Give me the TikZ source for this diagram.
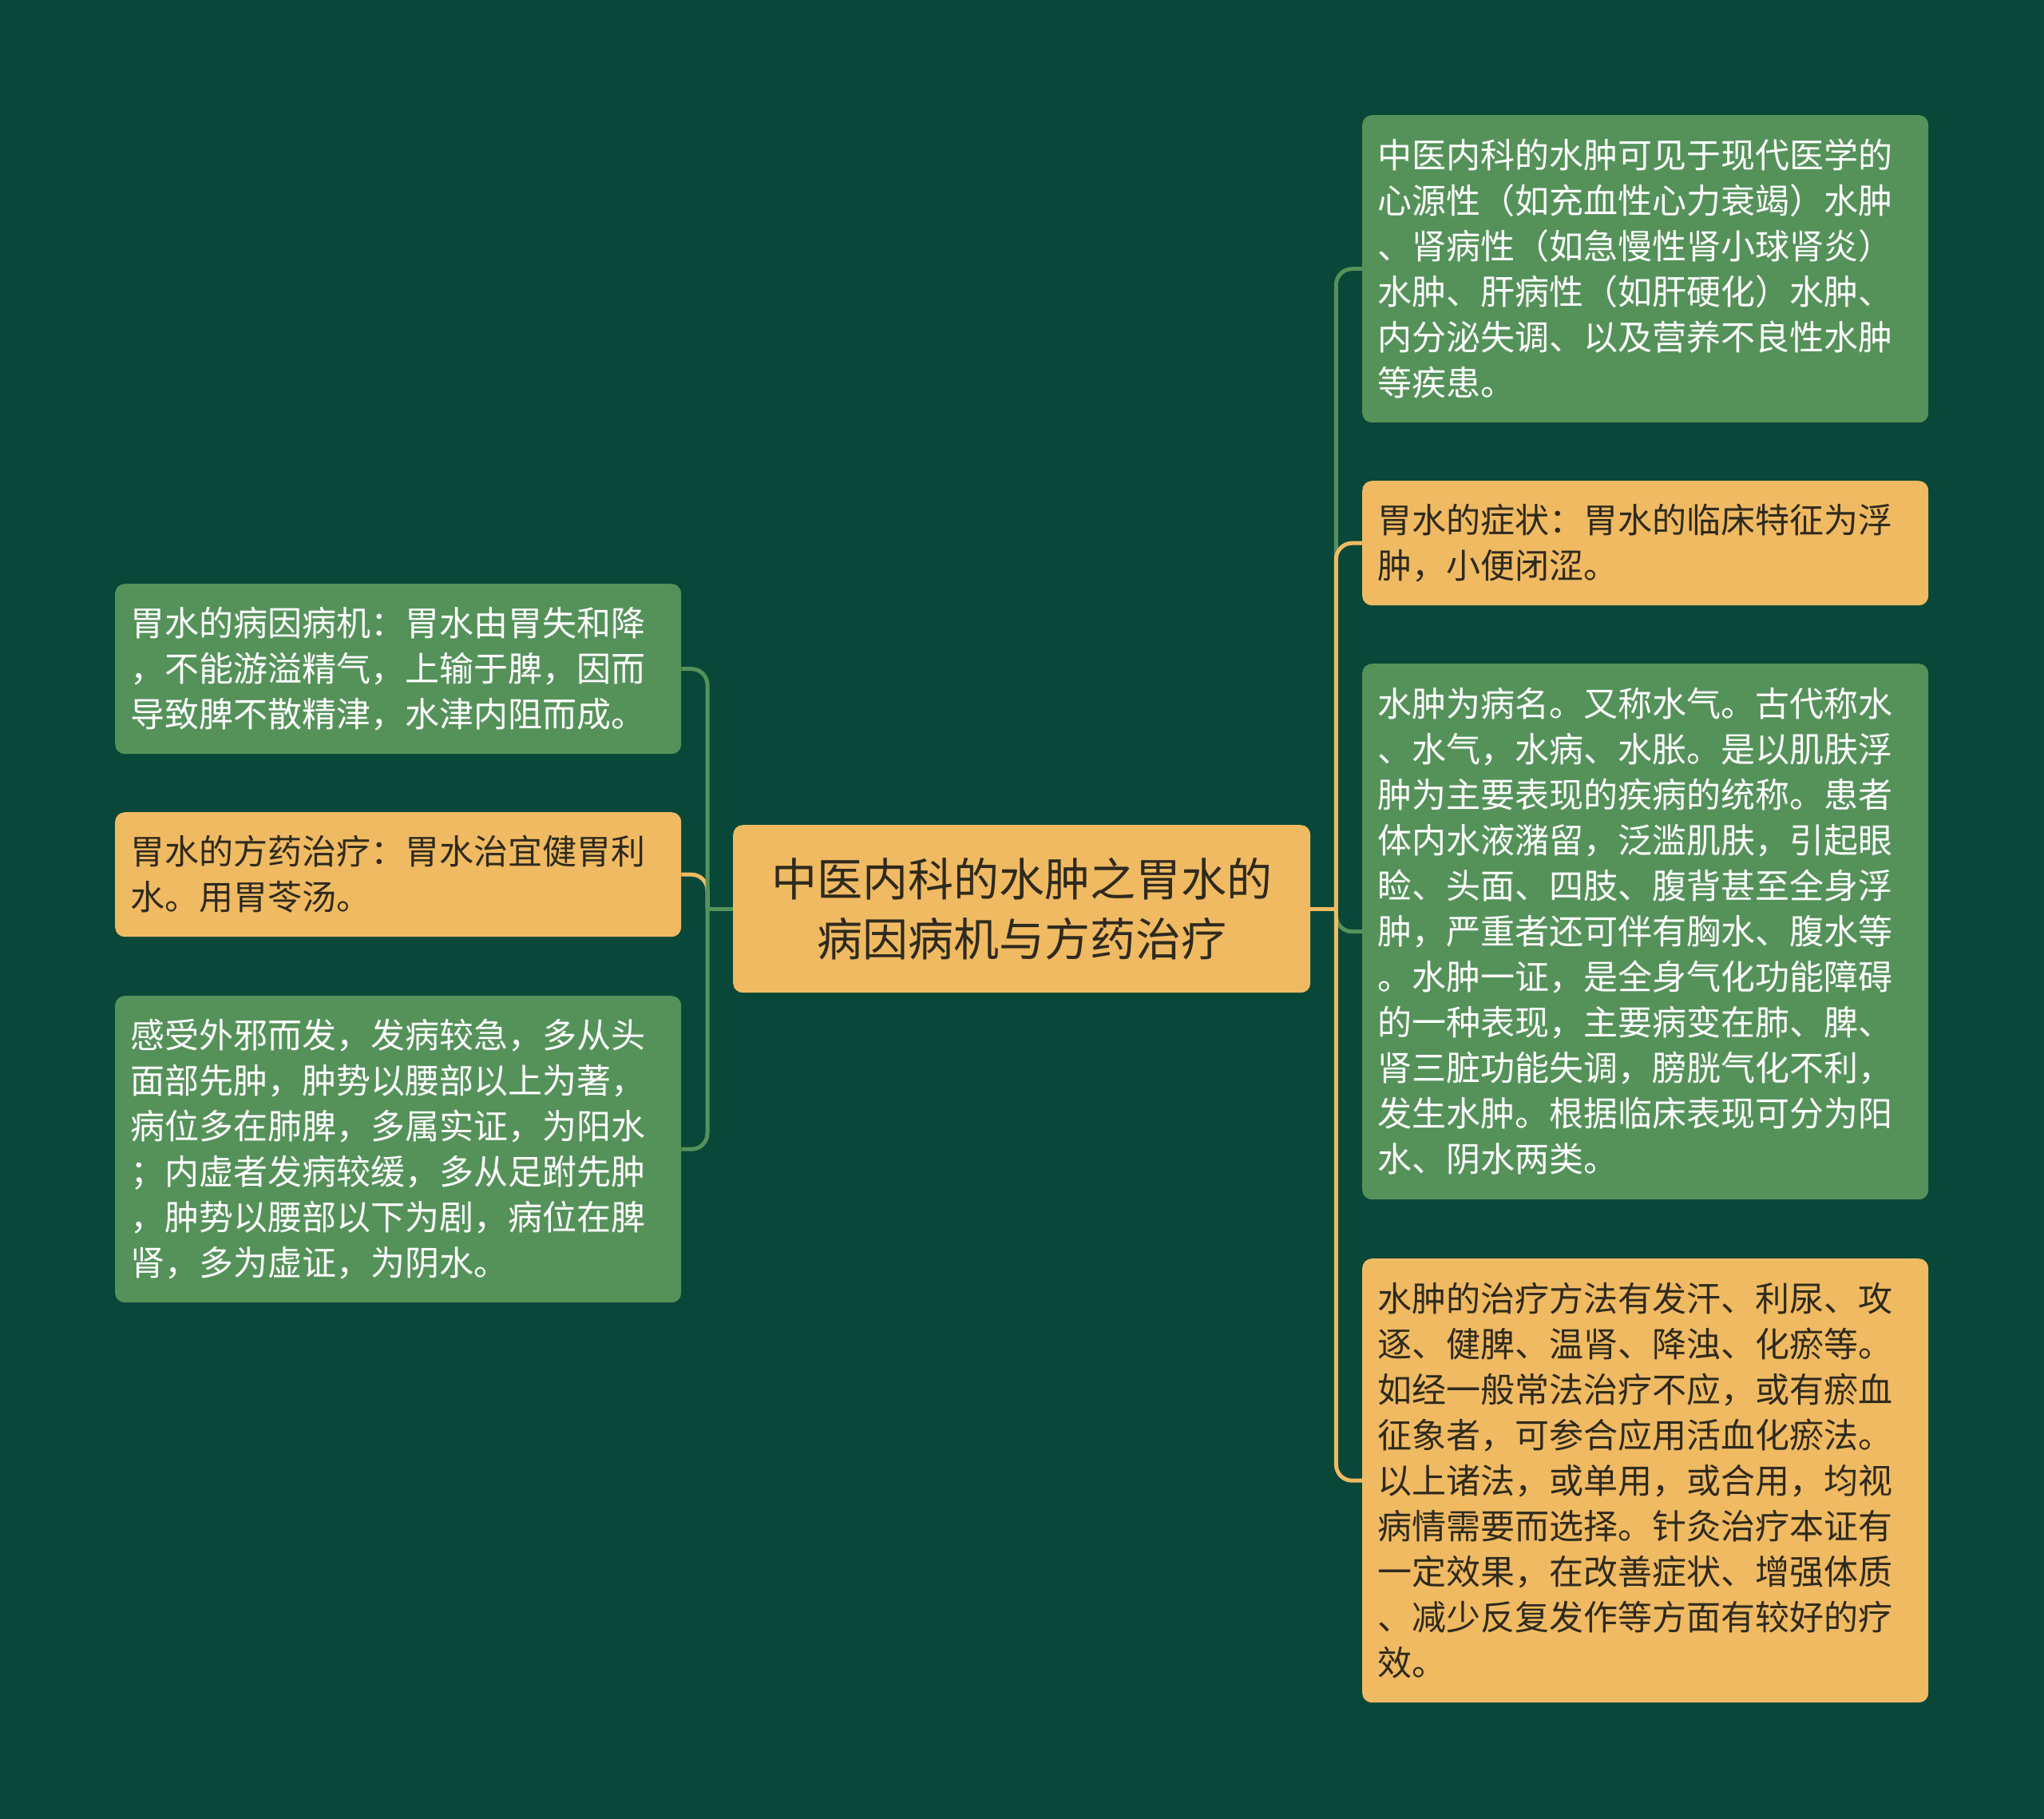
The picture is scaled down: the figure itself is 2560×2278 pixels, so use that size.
\documentclass[tikz,border=0pt]{standalone}
\usepackage{fontspec}
\newfontfamily\cjk{Noto Sans CJK SC}
\definecolor{bg}{HTML}{094738}
\definecolor{gbox}{HTML}{55925A}
\definecolor{obox}{HTML}{F0BA62}
\definecolor{dtext}{HTML}{2E2A1E}
\begin{document}
\begin{tikzpicture}[x=1pt,y=-1pt,
  box/.style={rounded corners=12pt, anchor=north west, inner xsep=19pt, inner ysep=0pt,
    text width=671pt, align=left, font=\cjk\fontsize{43pt}{57pt}\selectfont},
  gnode/.style={box, fill=gbox, text=white},
  onode/.style={box, fill=obox, text=dtext},
  glink/.style={draw=gbox, line width=5pt, rounded corners=20pt},
  olink/.style={draw=obox, line width=5pt, rounded corners=20pt}]
\fill[bg] (0,0) rectangle (2560,2278);
\useasboundingbox (0,0) rectangle (2560,2278);

\node[onode, text width=663pt, inner xsep=30pt, align=center, minimum height=210pt,
  font=\cjk\fontsize{57pt}{75pt}\selectfont] (c) at (918,1033)
  {中医内科的水肿之胃水的\\病因病机与方药治疗};

\node[gnode, minimum height=385pt] (r1) at (1706,144)
  {中医内科的水肿可见于现代医学的\\心源性（如充血性心力衰竭）水肿\\、肾病性（如急慢性肾小球肾炎）\\水肿、肝病性（如肝硬化）水肿、\\内分泌失调、以及营养不良性水肿\\等疾患。};
\node[onode, minimum height=156pt] (r2) at (1706,602)
  {胃水的症状：胃水的临床特征为浮\\肿，小便闭涩。};
\node[gnode, minimum height=671pt] (r3) at (1706,831)
  {水肿为病名。又称水气。古代称水\\、水气，水病、水胀。是以肌肤浮\\肿为主要表现的疾病的统称。患者\\体内水液潴留，泛滥肌肤，引起眼\\睑、头面、四肢、腹背甚至全身浮\\肿，严重者还可伴有胸水、腹水等\\。水肿一证，是全身气化功能障碍\\的一种表现，主要病变在肺、脾、\\肾三脏功能失调，膀胱气化不利，\\发生水肿。根据临床表现可分为阳\\水、阴水两类。};
\node[onode, minimum height=556pt] (r4) at (1706,1576)
  {水肿的治疗方法有发汗、利尿、攻\\逐、健脾、温肾、降浊、化瘀等。\\如经一般常法治疗不应，或有瘀血\\征象者，可参合应用活血化瘀法。\\以上诸法，或单用，或合用，均视\\病情需要而选择。针灸治疗本证有\\一定效果，在改善症状、增强体质\\、减少反复发作等方面有较好的疗\\效。};

\node[gnode, minimum height=213pt] (l1) at (144,731)
  {胃水的病因病机：胃水由胃失和降\\，不能游溢精气，上输于脾，因而\\导致脾不散精津，水津内阻而成。};
\node[onode, minimum height=156pt] (l2) at (144,1017)
  {胃水的方药治疗：胃水治宜健胃利\\水。用胃苓汤。};
\node[gnode, minimum height=384pt] (l3) at (144,1247)
  {感受外邪而发，发病较急，多从头\\面部先肿，肿势以腰部以上为著，\\病位多在肺脾，多属实证，为阳水\\；内虚者发病较缓，多从足跗先肿\\，肿势以腰部以下为剧，病位在脾\\肾，多为虚证，为阴水。};

\coordinate (rj) at ([xshift=32pt]c.east);
\coordinate (lj) at ([xshift=-32pt]c.west);

\draw[glink] (rj) |- (r1.west);
\draw[glink] (rj) |- (r3.west);
\draw[olink] (rj) |- (r2.west);
\draw[olink] (rj) |- (r4.west);
\draw[glink] (c.east) -- (rj);
\draw[olink] (c.east) -- (rj);
\draw[olink] (lj) |- (l2.east);
\draw[glink] (lj) |- (l1.east);
\draw[glink] (lj) |- (l3.east);
\draw[glink] (c.west) -- (lj);
\end{tikzpicture}
\end{document}
